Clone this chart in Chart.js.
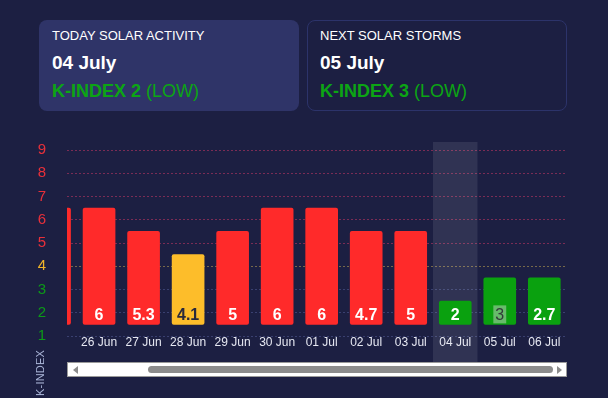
<!DOCTYPE html>
<html>
<head>
<meta charset="utf-8">
<script src="https://cdn.jsdelivr.net/npm/chart.js@4.4.1/dist/chart.umd.min.js"></script>
<style>
	body { margin: 0; background: #1c1f42; font-family: "Liberation Sans", Arial, sans-serif; color: #fff; }
	#page { position: relative; width: 608px; height: 398px; overflow: hidden; }
	.card { position: absolute; top: 20px; width: 260px; height: 91px; box-sizing: border-box; border-radius: 8px; padding: 8px 13px; }
	.card.today { left: 39px; background: #2f3468; }
	.card.next { left: 307px; border: 1px solid #2c336a; padding: 7px 12px; }
	.card .t { font-size: 13px; line-height: 16px; }
	.card .d { font-size: 19px; font-weight: bold; margin-top: 8px; line-height: 21px; }
	.card .k { font-size: 18px; color: #0ca514; margin-top: 8px; line-height: 20px; }
	.card .k b { font-weight: bold; }
	#chartBox { position: absolute; left: 0; top: 120px; width: 608px; height: 246px; }
	#ytitle { position: absolute; left: 34px; top: 396px; width: 60px; line-height: 13px; font-size: 11px; color: #a8b3d6; transform: rotate(-90deg); transform-origin: left top; letter-spacing: 0.2px; }
	#scroll { position: absolute; left: 67px; top: 362px; width: 500px; height: 15px; box-sizing: border-box; background: #fff; border: 1px solid #9a9a9a; }
	#thumb { position: absolute; left: 80px; top: 3px; width: 405px; height: 7px; background: #8c8c8c; border-radius: 4px; }
	.arr { position: absolute; top: 3px; width: 0; height: 0; border-top: 4px solid transparent; border-bottom: 4px solid transparent; }
	.arr.l { left: 5px; border-right: 5px solid #8c8c8c; }
	.arr.r { right: 4px; border-left: 5px solid #8c8c8c; }
</style>
</head>
<body>
<div id="page">
	<div class="card today">
		<div class="t">TODAY SOLAR ACTIVITY</div>
		<div class="d">04 July</div>
		<div class="k"><b>K-INDEX 2</b> (LOW)</div>
	</div>
	<div class="card next">
		<div class="t">NEXT SOLAR STORMS</div>
		<div class="d">05 July</div>
		<div class="k"><b>K-INDEX 3</b> (LOW)</div>
	</div>
	<div id="chartBox"><canvas id="kChart" width="608" height="246"></canvas></div>
	<div id="ytitle">K-INDEX</div>
	<div id="scroll"><div class="arr l"></div><div id="thumb"></div><div class="arr r"></div></div>
</div>

<script>
// ngày và chỉ số K
const days = ['25 Jun', '26 Jun', '27 Jun', '28 Jun', '29 Jun', '30 Jun', '01 Jul', '02 Jul', '03 Jul', '04 Jul', '05 Jul', '06 Jul'];
const kIndex = [6, 6, 5.3, 4.1, 5, 6, 6, 4.7, 5, 2, 3, 2.7];
const yTicks = [1, 2, 3, 4, 5, 6, 7, 8, 9];
const todayIdx = 9;   // 04 Jul
const boxedIdx = 10;  // 05 Jul

function levelColor(v) {
	if (v >= 5) return '#ff2a2a';
	if (v >= 4) return '#fdbd2a';
	return '#0aa10f';
}
function tickColor(v) {
	if (v >= 5) return '#e8303a';
	if (v >= 4) return '#f0b429';
	return '#0c9a18';
}
function gridColor(v) {
	if (v >= 5) return '#7a2c55';
	if (v >= 4) return '#77694a';
	return '#3a4070';
}

// cột nổi: từ 1.5 đến mức làm tròn + 0.5
const barData = kIndex.map((v, i) => ({ x: i, y: [1.5, Math.round(v) + 0.5] }));

// nền sáng cho ngày hôm nay
const todayBand = {
	id: 'todayBand',
	beforeDatasetsDraw(chart) {
		const x = chart.scales.x;
		const ctx = chart.ctx;
		const l = x.getPixelForValue(todayIdx - 0.5);
		const r = x.getPixelForValue(todayIdx + 0.5);
		ctx.save();
		ctx.fillStyle = 'rgba(255,255,255,0.09)';
		ctx.fillRect(l, chart.chartArea.top - 8, r - l, chart.height - chart.chartArea.top + 8);
		ctx.restore();
	}
};

// nhãn giá trị trong cột
const barLabels = {
	id: 'barLabels',
	afterDatasetsDraw(chart) {
		const ctx = chart.ctx;
		const meta = chart.getDatasetMeta(0);
		const area = chart.chartArea;
		ctx.save();
		ctx.beginPath();
		ctx.rect(area.left, 0, area.right - area.left, chart.height);
		ctx.clip();
		ctx.textAlign = 'center';
		ctx.textBaseline = 'middle';
		meta.data.forEach((bar, i) => {
			const v = kIndex[i];
			const y = bar.base - 10;
			const txt = String(v);
			if (i === boxedIdx) {
				ctx.font = '16px "Liberation Sans", Arial, sans-serif';
				const w = ctx.measureText(txt).width + 4;
				ctx.fillStyle = 'rgba(220,220,220,0.45)';
				ctx.fillRect(bar.x - w / 2, y - 9, w, 18);
				ctx.fillStyle = '#333a3a';
			} else {
				ctx.fillStyle = (Math.round(v) === 4) ? '#2a2a3c' : '#ffffff';
				ctx.font = 'bold 16px "Liberation Sans", Arial, sans-serif';
			}
			ctx.fillText(txt, bar.x, y + 1);
		});
		ctx.restore();
	}
};

new Chart(document.getElementById('kChart').getContext('2d'), {
	type: 'bar',
	data: {
		datasets: [{
			data: barData,
			backgroundColor: kIndex.map(v => levelColor(Math.round(v))),
			borderRadius: 2,
			borderSkipped: false,
			barThickness: 32
		}]
	},
	plugins: [todayBand, barLabels],
	options: {
		responsive: false,
		animation: false,
		events: [],
		layout: { padding: { top: 26, right: 41, left: 0, bottom: 0 } },
		plugins: { legend: { display: false }, tooltip: { enabled: false } },
		scales: {
			x: {
				type: 'linear',
				offset: false,
				min: 0.28,
				max: 11.51,
				grid: { display: false, drawTicks: false },
				border: { display: false },
				afterFit: s => { s.height = 27; },
				ticks: {
					stepSize: 1,
					includeBounds: false,
					autoSkip: false,
					maxRotation: 0,
					padding: -1,
					color: '#e6e8f2',
					font: { size: 12, family: '"Liberation Sans", Arial, sans-serif' },
					callback: v => days[v] || ''
				}
			},
			y: {
				min: 1,
				max: 9,
				afterFit: s => { s.width = 67; },
				afterBuildTicks: s => { s.ticks = yTicks.map(v => ({ value: v })); },
				border: { display: false, dash: [2, 2] },
				grid: {
					drawTicks: false,
					color: c => gridColor(c.tick.value),
					lineWidth: 1
				},
				ticks: {
					padding: 21,
					color: c => tickColor(c.tick.value),
					font: { size: 15, family: '"Liberation Sans", Arial, sans-serif' }
				}
			}
		}
	}
});
</script>
</body>
</html>
